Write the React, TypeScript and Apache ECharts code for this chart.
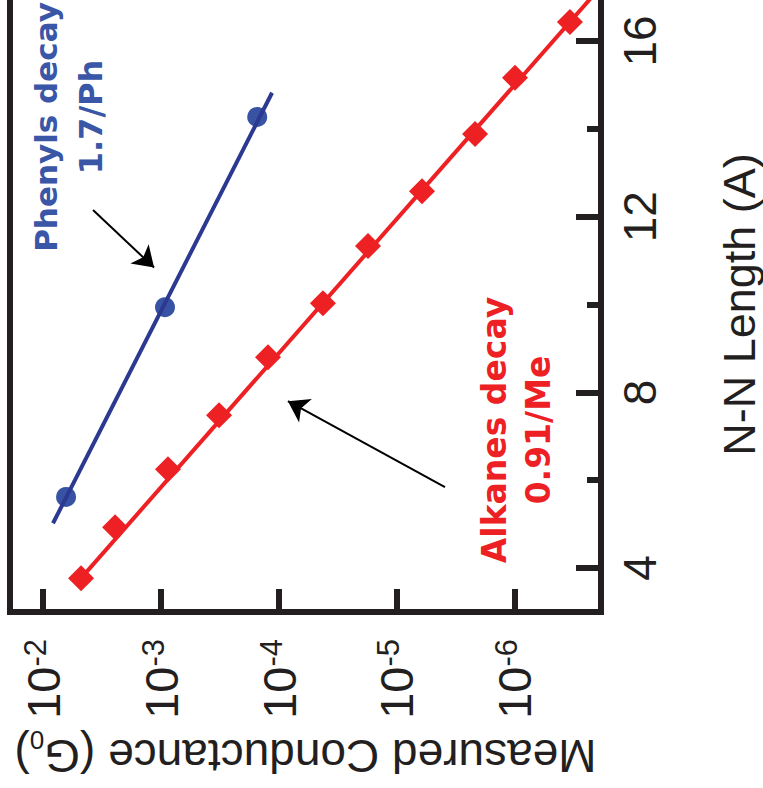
import React, { useEffect, useRef } from "react";
import * as echarts from "echarts";

// ---- data ----
const alkaneLength = [3.77, 4.93, 6.25, 7.48, 8.8, 10.03, 11.33, 12.58, 13.88, 15.16, 16.43];
const alkaneConductance = [4.76e-3, 2.45e-3, 8.73e-4, 3.22e-4, 1.24e-4, 4.24e-5, 1.76e-5, 6.14e-6, 2.18e-6, 1.0e-6, 3.42e-7];
const alkaneFitLength = [3.77, 17.0];
const alkaneFitConductance = [4.76e-3, 2.23e-7];

const phenylLength = [5.62, 9.94, 14.27];
const phenylConductance = [6.38e-3, 9.25e-4, 1.53e-4];
const phenylFitLength = [5.02, 14.82];
const phenylFitConductance = [8.23e-3, 1.145e-4];

// arrows: [conductance, length] from -> to
const phenylArrow = [[3.77e-3, 12.15], [1.145e-3, 10.84]];
const alkaneArrow = [[3.92e-6, 5.84], [8.4e-5, 7.8]];

const conductanceTicks = [1e-2, 1e-3, 1e-4, 1e-5, 1e-6];
const lengthMajorTicks = [4, 8, 12, 16];
const lengthMinorTicks = [6, 10, 14];
const conductanceRange = [1.866e-7, 1.905e-2];
const lengthRange = [3, 17];

const phenylNoteLines = ["Phenyls decay", "1.7/Ph"];
const alkaneNote = "Alkanes decay\n0.91/Me";
const xTitle = "Measured Conductance (G";
const xTitleSub = "0";
const yTitle = "N-N Length (A)";

const AXIS = "#231f20";
const RED = "#ed2024";
const BLUE_LINE = "#2b3990";
const BLUE_PT = "#3953a4";
const BLUE_TXT = "#3a56a6";
const FONT = "'Liberation Sans', Arial, Helvetica, sans-serif";
const NOTE_FONT = "'DejaVu Sans', 'Noto Sans', sans-serif";

const noteStyle = (text: string, fill: string, fontSize: number, lineHeight?: number) => ({
  text,
  fill,
  fontSize,
  fontWeight: "bold",
  fontFamily: NOTE_FONT,
  lineHeight: lineHeight ?? fontSize,
  align: "center",
  verticalAlign: "middle",
  textAlign: "center",
  textVerticalAlign: "middle",
});

export default function App() {
  const ref = useRef<HTMLDivElement>(null);
  useEffect(() => {
    if (!ref.current) return;
    const chart = echarts.init(ref.current, null, { renderer: "svg" });
    const pairs = (xs: number[], ys: number[]) => xs.map((x, i) => [x, ys[i]]);
    const option: any = {
      animation: false,
      backgroundColor: "#ffffff",
      grid: {
        left: 10,
        right: 162,
        top: -3,
        bottom: 176,
        show: true,
        borderWidth: 6,
        borderColor: AXIS,
        backgroundColor: "transparent",
        containLabel: false,
        outerBoundsMode: "none",
      },
      xAxis: {
        type: "log",
        logBase: 10,
        inverse: true,
        min: conductanceRange[0],
        max: conductanceRange[1],
        position: "bottom",
        axisLine: { show: false, onZero: false },
        axisTick: {
          show: true,
          inside: true,
          length: 23,
          customValues: conductanceTicks,
          lineStyle: { color: AXIS, width: 6 },
        },
        minorTick: { show: false },
        splitLine: { show: false },
        axisLabel: {
          show: true,
          rotate: 90,
          margin: 27,
          customValues: conductanceTicks,
          formatter: (v: number) => `{b|10}{s|${Math.round(Math.log10(v))}}`,
          rich: {
            b: { fontSize: 47, fontFamily: FONT, color: AXIS, lineHeight: 47, padding: [15, 0, 0, 0], verticalAlign: "bottom" },
            s: { fontSize: 31, fontFamily: FONT, color: AXIS, lineHeight: 31, verticalAlign: "top" },
          },
        },
        name: `{m|${xTitle}}{sub|${xTitleSub}}{m|)}`,
        nameLocation: "middle",
        nameGap: 140,
        nameRotate: 180,
        nameTextStyle: {
          align: "center",
          verticalAlign: "middle",
          rich: {
            m: { fontSize: 46, fontFamily: FONT, color: AXIS, lineHeight: 52, verticalAlign: "top" },
            sub: { fontSize: 26, fontFamily: FONT, color: AXIS, lineHeight: 26, padding: [35, 0, 0, 0], verticalAlign: "bottom" },
          },
        },
      },
      yAxis: [
        {
          type: "value",
          position: "right",
          min: lengthRange[0],
          max: lengthRange[1],
          axisLine: { show: false, onZero: false },
          axisTick: {
            show: true,
            inside: true,
            length: 25,
            customValues: lengthMajorTicks,
            lineStyle: { color: AXIS, width: 6 },
          },
          splitLine: { show: false },
          axisLabel: {
            show: true,
            rotate: 90,
            margin: 16,
            customValues: lengthMajorTicks,
            fontSize: 46,
            fontFamily: FONT,
            color: AXIS,
          },
          name: yTitle,
          nameLocation: "middle",
          nameGap: 138,
          nameRotate: 90,
          nameTextStyle: {
            fontSize: 45,
            lineHeight: 42,
            fontFamily: FONT,
            color: AXIS,
            align: "center",
            verticalAlign: "middle",
          },
        },
        {
          type: "value",
          position: "right",
          min: lengthRange[0],
          max: lengthRange[1],
          axisLine: { show: false, onZero: false },
          axisTick: {
            show: true,
            inside: true,
            length: 14,
            customValues: lengthMinorTicks,
            lineStyle: { color: AXIS, width: 6 },
          },
          splitLine: { show: false },
          axisLabel: { show: false },
        },
      ],
      series: [
        {
          type: "line",
          name: "Alkanes fit",
          data: pairs(alkaneFitConductance, alkaneFitLength),
          symbol: "none",
          showSymbol: false,
          lineStyle: { color: RED, width: 4 },
          silent: true,
          z: 2,
        },
        {
          type: "scatter",
          name: "Alkanes",
          data: pairs(alkaneConductance, alkaneLength),
          symbol: "diamond",
          symbolSize: 26,
          itemStyle: { color: RED, opacity: 1 },
          z: 3,
        },
        {
          type: "scatter",
          name: "Phenyls",
          data: pairs(phenylConductance, phenylLength),
          symbol: "circle",
          symbolSize: 20,
          itemStyle: { color: BLUE_PT, opacity: 1 },
          z: 3,
        },
        {
          type: "line",
          name: "Phenyls fit",
          data: pairs(phenylFitConductance, phenylFitLength),
          symbol: "none",
          showSymbol: false,
          lineStyle: { color: BLUE_LINE, width: 4 },
          silent: true,
          z: 4,
          markLine: {
            silent: true,
            animation: false,
            symbol: ["none", "arrow"],
            symbolSize: 20,
            label: { show: false },
            emphasis: { disabled: true },
            lineStyle: { color: "#000000", width: 2, type: "solid" },
            data: [
              [{ coord: phenylArrow[0] }, { coord: phenylArrow[1] }],
              [{ coord: alkaneArrow[0] }, { coord: alkaneArrow[1] }],
            ],
          },
        },
      ],
      graphic: [
        {
          type: "text",
          x: 46,
          y: 127,
          rotation: Math.PI / 2,
          z: 10,
          style: noteStyle(phenylNoteLines[0], BLUE_TXT, 31),
        },
        {
          type: "text",
          x: 91,
          y: 117,
          rotation: Math.PI / 2,
          z: 10,
          style: noteStyle(phenylNoteLines[1], BLUE_TXT, 32),
        },
        {
          type: "text",
          x: 516,
          y: 430,
          rotation: Math.PI / 2,
          z: 10,
          style: noteStyle(alkaneNote, RED, 33, 44),
        },
      ],
    };
    chart.setOption(option);
    return () => chart.dispose();
  }, []);
  return (
    <div
      ref={ref}
      style={{ position: "absolute", left: 0, top: 0, width: 763, height: 788 }}
    />
  );
}
